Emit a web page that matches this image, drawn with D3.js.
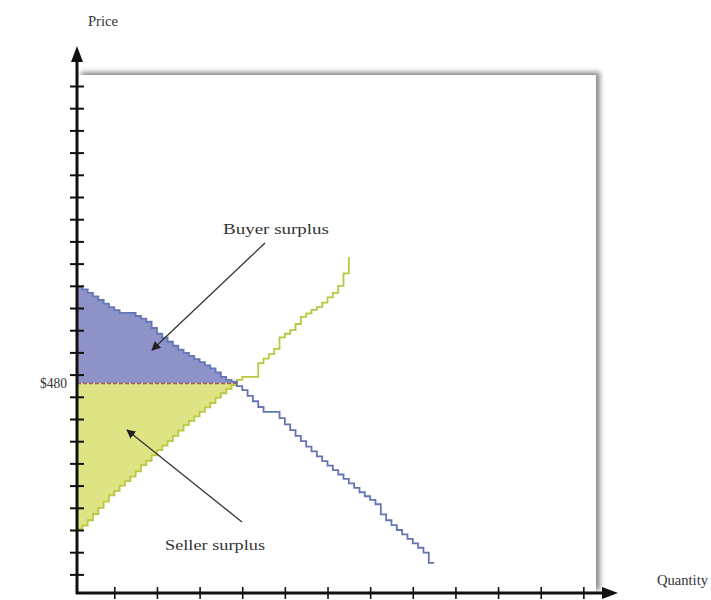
<!DOCTYPE html>
<html><head><meta charset="utf-8">
<script src="https://cdn.jsdelivr.net/npm/d3@7"></script>
<style>body{margin:0;background:#fff}svg{display:block}text{font-family:"Liberation Serif","DejaVu Serif",serif;fill:#333}</style>
</head><body>
<script>
// Demand: reservation price of each buyer (one unit each), highest first
const demand = [697,692,684,676,668,660,652,645,639,639,639,632,626,619,605,592,583,574,565,556,549,542,535,528,521,514,505,495,488,484,
  474,465,452,440,427,416,416,416,402,388,375,362,350,338,327,316,305,295,285,275,265,255,245,235,226,218,208,185,172,161,150,140,130,120,110,99,76];
// Supply: cost of each seller (one unit each), lowest first
const supply = [152,160,172,186,200,214,228,238,250,260,270,282,296,306,318,330,340,350,362,374,386,396,406,416,426,436,448,458,468,476,
  488,495,495,495,526,536,546,558,584,592,600,614,630,638,646,652,662,674,684,700,728];
const supplyEnd = 765;
const eqPrice = 480, eqQty = 30;
const yTicks = [50,100,150,200,250,300,350,400,450,500,550,600,650,700,750,800,850,900,950,1000,1050,1100,1150];
const xTicks = [7,15,23,31,39,47,55,63,71,79,87,95];
const labels = {price:"Price", qty:"Quantity", eq:"$480", buyer:"Buyer surplus", seller:"Seller surplus"};

const W=711,H=600;
const svg=d3.select("body").append("svg").attr("width",W).attr("height",H);
const x=d3.scaleLinear().domain([0,100]).range([77,610]);
const y=d3.scaleLinear().domain([0,1000]).range([596.6,152.6]);
const axisY=593, axisX=77;

const defs=svg.append("defs");
const f=defs.append("filter").attr("id","sh").attr("x","-10%").attr("y","-10%").attr("width","130%").attr("height","130%");
f.append("feDropShadow").attr("dx",4).attr("dy",-3).attr("stdDeviation",2.5).attr("flood-color","#000").attr("flood-opacity",0.45);
defs.append("marker").attr("id","ah").attr("viewBox","0 0 10 10").attr("refX",9).attr("refY",5)
  .attr("markerWidth",7).attr("markerHeight",7).attr("orient","auto")
  .append("path").attr("d","M0,0L10,5L0,10Z").attr("fill","#222");

// plot panel with shadow
svg.append("rect").attr("x",axisX).attr("y",75).attr("width",596-axisX).attr("height",axisY-75)
  .attr("fill","#fff").attr("filter","url(#sh)");

const dPts=demand.map((v,i)=>[i,v]); dPts.push([demand.length,demand[demand.length-1]]);
const sPts=supply.map((v,i)=>[i,v]); sPts.push([supply.length,supplyEnd]);
const bPts=demand.slice(0,eqQty).map((v,i)=>[i,v]); bPts.push([eqQty,demand[eqQty-1]]);
const slPts=supply.slice(0,eqQty).map((v,i)=>[i,v]); slPts.push([eqQty,supply[eqQty-1]]);

const area=d3.area().x(d=>x(d[0])).y0(y(eqPrice)).y1(d=>y(d[1])).curve(d3.curveStepAfter);
svg.append("path").attr("d",area(bPts)).attr("fill","#8d92c8");
svg.append("path").attr("d",area(slPts)).attr("fill","#dee384");

const line=d3.line().x(d=>x(d[0])).y(d=>y(d[1])).curve(d3.curveStepAfter);
svg.append("line").attr("x1",x(0)).attr("x2",x(eqQty)).attr("y1",y(eqPrice)).attr("y2",y(eqPrice))
  .attr("stroke","#a0604a").attr("stroke-width",1.3).attr("stroke-dasharray","4,2");
svg.append("path").attr("d",line(sPts)).attr("fill","none").attr("stroke","#bac840").attr("stroke-width",1.8);
svg.append("path").attr("d",line(dPts)).attr("fill","none").attr("stroke","#6475b6").attr("stroke-width",1.8);

// axes
const ga=svg.append("g").attr("transform",`translate(${axisX+7},0)`)
  .call(d3.axisLeft(y).tickValues(yTicks).tickSize(14).tickFormat(""));
ga.select(".domain").remove();
ga.selectAll("line").attr("stroke","#111").attr("stroke-width",2);
const gb=svg.append("g").attr("transform",`translate(0,${axisY-6})`)
  .call(d3.axisBottom(x).tickValues(xTicks).tickSize(12).tickFormat(""));
gb.select(".domain").remove();
gb.selectAll("line").attr("stroke","#111").attr("stroke-width",1.6);
svg.append("line").attr("x1",axisX).attr("x2",axisX).attr("y1",axisY+1).attr("y2",58).attr("stroke","#111").attr("stroke-width",3);
svg.append("path").attr("d",`M${axisX},46L${axisX+6},62L${axisX-6},62Z`).attr("fill","#111");
svg.append("line").attr("x1",axisX-1).attr("x2",606).attr("y1",axisY).attr("y2",axisY).attr("stroke","#111").attr("stroke-width",3);
svg.append("path").attr("d",`M618,${axisY}L602,${axisY-6}L602,${axisY+6}Z`).attr("fill","#111");

// labels
function lab(tx,ty,str,len,anchor){
  svg.append("text").attr("x",tx).attr("y",ty).attr("font-size",14).attr("text-anchor",anchor||"start")
    .attr("textLength",len).attr("lengthAdjust","spacingAndGlyphs").text(str);
}
lab(88,26,labels.price,30);
lab(657,585,labels.qty,51);
lab(67,y(eqPrice)+5,labels.eq,27,"end");
lab(276,234,labels.buyer,106,"middle");
lab(215,550,labels.seller,100,"middle");

// pointer arrows
svg.append("line").attr("x1",265).attr("y1",243).attr("x2",152).attr("y2",350)
  .attr("stroke","#333").attr("stroke-width",1.3).attr("marker-end","url(#ah)");
svg.append("line").attr("x1",242).attr("y1",522).attr("x2",127).attr("y2",430)
  .attr("stroke","#333").attr("stroke-width",1.3).attr("marker-end","url(#ah)");
</script>
</body></html>
